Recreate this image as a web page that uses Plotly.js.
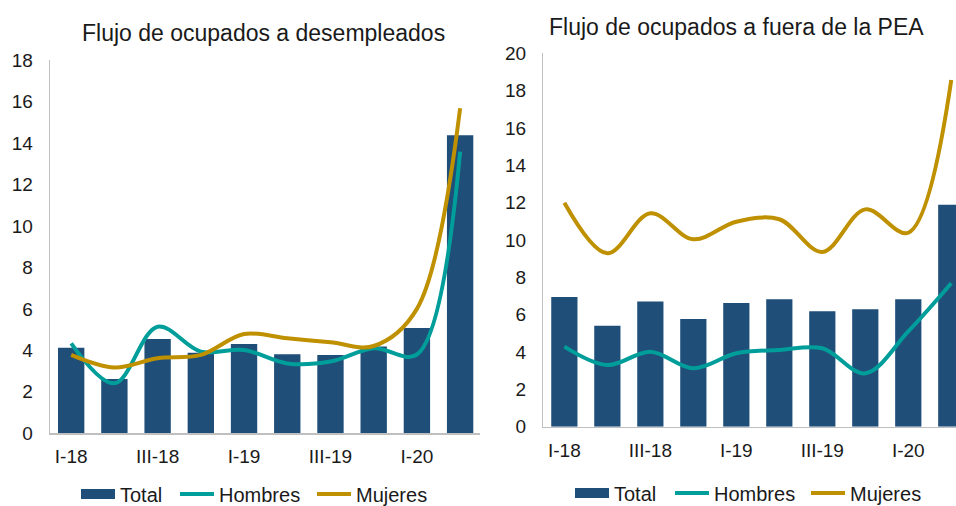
<!DOCTYPE html>
<html>
<head>
<meta charset="utf-8">
<script src="https://cdn.plot.ly/plotly-3.0.1.min.js"></script>
<style>
html,body{margin:0;padding:0;background:#fff;}
#chart{width:956px;height:506px;}
</style>
</head>
<body>
<div id="chart"></div>
<script>
// ---- Data ----
var quarters = ['I-18','II-18','III-18','IV-18','I-19','II-19','III-19','IV-19','I-20','II-20'];
var tickLabels = ['I-18','III-18','I-19','III-19','I-20'];

// Panel 1: Flujo de ocupados a desempleados
var desTotal   = [4.13, 2.62, 4.55, 3.89, 4.31, 3.81, 3.78, 4.18, 5.08, 14.37];
var desHombres = [4.34, 2.41, 5.14, 3.94, 4.02, 3.37, 3.46, 4.10, 3.80, 13.58];
var desMujeres = [3.78, 3.17, 3.62, 3.78, 4.79, 4.58, 4.39, 4.21, 6.00, 15.67];

// Panel 2: Flujo de ocupados a fuera de la PEA
var peaTotal   = [6.95, 5.41, 6.71, 5.77, 6.63, 6.82, 6.18, 6.29, 6.82, 11.89];
var peaHombres = [4.29, 3.30, 4.02, 3.13, 3.93, 4.11, 4.20, 2.86, 5.10, 7.68];
var peaMujeres = [12.00, 9.29, 11.43, 10.04, 10.98, 11.11, 9.36, 11.64, 10.39, 18.57];

var titles = ['Flujo de ocupados a desempleados', 'Flujo de ocupados a fuera de la PEA'];
var names = ['Total', 'Hombres', 'Mujeres'];

// ---- Styles ----
var cBar = '#1F4E79', cH = '#009E9A', cM = '#BF9000';
var font = 'Arial, "Liberation Sans", sans-serif';
var W = 956, H = 506;

function barTrace(y, xa, ya){
  return {type:'bar', x:quarters, y:y, xaxis:xa, yaxis:ya, marker:{color:cBar},
          width:0.61, showlegend:false, hoverinfo:'y'};
}
function lineTrace(y, name, color, xa, ya, leg, lw){
  return {type:'scatter', mode:'lines', x:quarters, y:y, name:name, xaxis:xa, yaxis:ya,
          line:{color:color, width:4, shape:'spline', smoothing:1}, legend:leg, legendwidth:lw};
}
function legendProxy(name, xa, ya, leg, lw){
  return {type:'scatter', mode:'lines', x:[null], y:[null], name:name, xaxis:xa, yaxis:ya,
          line:{color:cBar, width:12}, legend:leg, legendwidth:lw};
}

var data = [
  barTrace(desTotal,'x','y'),
  legendProxy(names[0],'x','y','legend', 50),
  lineTrace(desHombres, names[1], cH, 'x','y','legend', 88),
  lineTrace(desMujeres, names[2], cM, 'x','y','legend', 80),
  barTrace(peaTotal,'x2','y2'),
  legendProxy(names[0],'x2','y2','legend2', 51),
  lineTrace(peaHombres, names[1], cH, 'x2','y2','legend2', 87),
  lineTrace(peaMujeres, names[2], cM, 'x2','y2','legend2', 80)
];

var axisCommon = {showgrid:false, zeroline:false, showline:true, linecolor:'#BFBFBF', linewidth:1.3,
                  ticks:'', tickfont:{family:font, size:19, color:'#1a1a1a'}, fixedrange:true};

var layout = {
  width:W, height:H, margin:{l:0,r:0,t:0,b:0, autoexpand:false},
  paper_bgcolor:'#fff', plot_bgcolor:'rgba(0,0,0,0)',
  font:{family:font, color:'#1a1a1a'},
  xaxis: Object.assign({}, axisCommon, {domain:[50/W, 480/W], anchor:'y', type:'category',
          range:[-0.49, 9.46], tickmode:'array', tickvals:tickLabels, ticktext:tickLabels, ticklabelstandoff:6}),
  yaxis: Object.assign({}, axisCommon, {domain:[1-433.3/H, 1-60/H], anchor:'x', range:[0,18],
          tickmode:'linear', tick0:0, dtick:2, ticklabelstandoff:12}),
  xaxis2: Object.assign({}, axisCommon, {domain:[543.3/W, 1], anchor:'y2', type:'category',
          range:[-0.49, 9.11], tickmode:'array', tickvals:tickLabels, ticktext:tickLabels, ticklabelstandoff:6}),
  yaxis2: Object.assign({}, axisCommon, {domain:[1-426.7/H, 1-53.3/H], anchor:'x2', range:[0,20],
          tickmode:'linear', tick0:0, dtick:2, ticklabelstandoff:12}),
  showlegend:true,
  legend:{orientation:'h', x:76/W, xanchor:'left', y:1-494/H, yanchor:'middle', xref:'paper', yref:'paper',
          font:{family:font, size:20, color:'#1a1a1a'}, itemwidth:34, tracegroupgap:0, bgcolor:'rgba(0,0,0,0)'},
  legend2:{orientation:'h', x:570/W, xanchor:'left', y:1-493/H, yanchor:'middle', xref:'paper', yref:'paper',
          font:{family:font, size:20, color:'#1a1a1a'}, itemwidth:34, tracegroupgap:0, bgcolor:'rgba(0,0,0,0)'},
  annotations:[
    {text:titles[0], xref:'paper', yref:'paper', x:263/W, y:1-33/H, xanchor:'center', yanchor:'middle',
     showarrow:false, font:{family:font, size:23, color:'#1a1a1a'}},
    {text:titles[1], xref:'paper', yref:'paper', x:736/W, y:1-27/H, xanchor:'center', yanchor:'middle',
     showarrow:false, font:{family:font, size:23, color:'#1a1a1a'}}
  ]
};

Plotly.newPlot('chart', data, layout, {displayModeBar:false, staticPlot:true});
</script>
</body>
</html>
